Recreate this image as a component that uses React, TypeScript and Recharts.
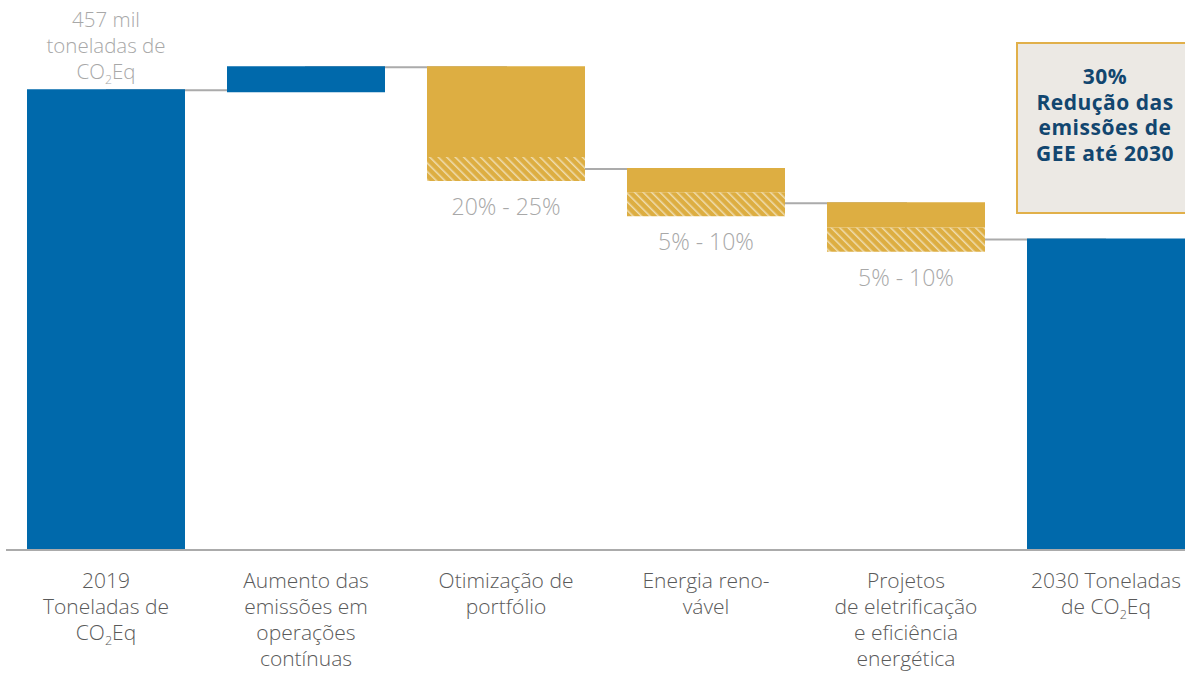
import React from "react";
import { ComposedChart, Bar, Line, XAxis, YAxis, Cell, LabelList } from "recharts";

// values in mil toneladas de CO2Eq
const categories = ["2019", "Aumento", "Otimizacao", "Energia", "Projetos", "2030"];
const categoryLines = [
  ["2019", "Toneladas de", "CO2Eq"],
  ["Aumento das", "emissões em", "operações", "contínuas"],
  ["Otimização de", "portfólio"],
  ["Energia reno-", "vável"],
  ["Projetos", "de eletrificação", "e eficiência", "energética"],
  ["2030 Toneladas", "de CO2Eq"],
];
const baseValues = [0, 454, 366, 331, 296, 0];
const hatchValues = [0, 0, 24, 24, 24, 0];
const solidValues = [457, 26, 90, 24, 25, 309];
const linkValues = [456, 479, 378, 344, 308, 308];
const rangeLabels = ["", "", "20% - 25%", "5% - 10%", "5% - 10%", ""];
const topLabel = ["457 mil", "toneladas de", "CO2Eq"];
const isReduction = [false, false, true, true, true, false];

const BLUE = "#0069AB";
const GOLD = "#DDAE42";
const GREY_TXT = "#A8A8A8";
const DARK_TXT = "#5A5A5A";
const FONT = "'Open Sans', Roboto, sans-serif";

const data = categories.map((c, i) => ({
  name: c,
  base: baseValues[i],
  hatch: hatchValues[i],
  solid: solidValues[i],
  link: linkValues[i],
}));

// draws "CO2Eq" with a subscript 2
const withSub = (line: string, size: number) => {
  const k = line.indexOf("CO2");
  if (k < 0) return line;
  return (
    <>
      {line.slice(0, k)}CO
      <tspan fontSize={size * 0.6} dy={5}>2</tspan>
      <tspan dy={-5}>{line.slice(k + 3)}</tspan>
    </>
  );
};

const CategoryTick = (props: any) => {
  const { x, y, payload } = props;
  const idx = categories.indexOf(payload.value);
  const lines = categoryLines[idx] || [];
  return (
    <g>
      {lines.map((l, i) => (
        <text key={i} x={x} y={y + 37.5 + i * 26} textAnchor="middle" fill={DARK_TXT} fontSize={21} fontWeight={300} fontFamily={FONT}>
          {withSub(l, 21)}
        </text>
      ))}
    </g>
  );
};

const RangeLabel = (props: any) => {
  const { x, y, width, height, value } = props;
  const t = rangeLabels[categories.indexOf(value)];
  if (!t) return null;
  return (
    <text x={Number(x) + Number(width) / 2} y={Number(y) + Number(height) + 34} textAnchor="middle" fill={GREY_TXT} fontSize={23} fontWeight={300} fontFamily={FONT}>
      {t}
    </text>
  );
};

const StartLabel = (props: any) => {
  const { x, y, width, value } = props;
  if (value !== categories[0]) return null;
  const cx = Number(x) + Number(width) / 2;
  return (
    <g>
      {topLabel.map((l, i) => (
        <text key={i} x={cx} y={Number(y) - 62 + i * 26} textAnchor="middle" fill={GREY_TXT} fontSize={20.5} fontWeight={300} fontFamily={FONT}>
          {withSub(l, 20.5)}
        </text>
      ))}
    </g>
  );
};

export default function App() {
  return (
    <div style={{ position: "absolute", left: 0, top: 0, width: 1185, height: 673, overflow: "hidden", background: "#fff", fontFamily: FONT }}>
      <ComposedChart width={1210} height={673} data={data} margin={{ top: 46, right: 4, left: 6, bottom: 0 }} barCategoryGap={0}>
        <defs>
          <pattern id="hatch" patternUnits="userSpaceOnUse" width={6} height={6} patternTransform="rotate(-45)">
            <rect width={6} height={6} fill={GOLD} />
            <line x1={0} y1={0} x2={0} y2={6} stroke="#EFDDB0" strokeWidth={3} />
          </pattern>
        </defs>
        <XAxis
          dataKey="name"
          interval={0}
          tickLine={false}
          tickSize={0}
          tickMargin={0}
          height={123}
          axisLine={{ stroke: "#ABABAB", strokeWidth: 2 }}
          tick={<CategoryTick />}
        />
        <YAxis hide domain={[0, 500]} />
        <Line type="stepAfter" dataKey="link" stroke="#ABABAB" strokeWidth={2} dot={false} activeDot={false} isAnimationActive={false} zIndex={250} />
        <Bar dataKey="base" stackId="w" fill="transparent" barSize={158} isAnimationActive={false} />
        <Bar dataKey="hatch" stackId="w" fill="url(#hatch)" barSize={158} isAnimationActive={false}>
          <LabelList dataKey="name" content={<RangeLabel />} />
        </Bar>
        <Bar dataKey="solid" stackId="w" barSize={158} isAnimationActive={false}>
          {data.map((d, i) => (
            <Cell key={d.name} fill={isReduction[i] ? GOLD : BLUE} />
          ))}
          <LabelList dataKey="name" content={<StartLabel />} />
        </Bar>
      </ComposedChart>
      <div
        style={{
          position: "absolute",
          left: 1016,
          top: 42,
          width: 178,
          height: 172,
          background: "#ECE9E4",
          border: "2px solid #E1B04A",
          color: "#12466F",
          fontWeight: 700,
          fontSize: 21,
          letterSpacing: 0.5,
          lineHeight: "25.5px",
          textAlign: "center",
          paddingTop: 20,
          boxSizing: "border-box",
        }}
      >
        30%<br />Redução das<br />emissões de<br />GEE até 2030
      </div>
    </div>
  );
}
